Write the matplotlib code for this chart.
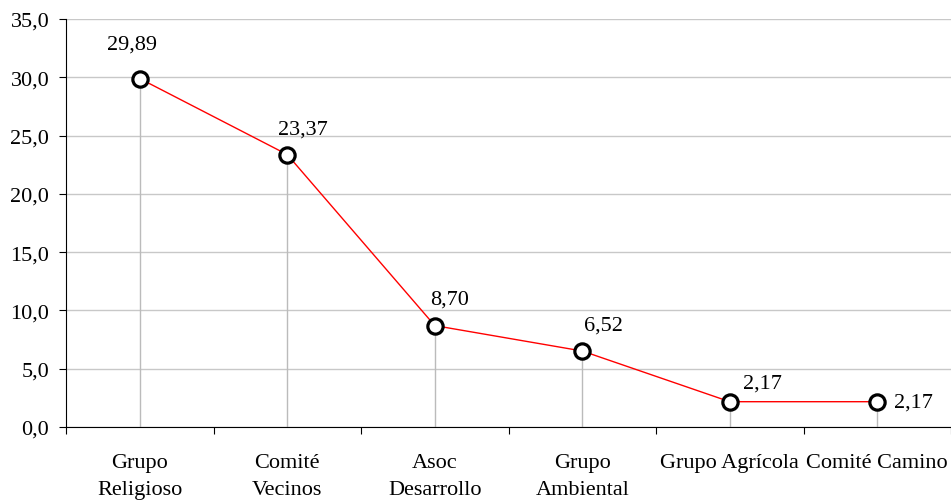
import matplotlib.pyplot as plt
import numpy as np

categorias = ["Grupo\nReligioso", "Comité\nVecinos", "Asoc\nDesarrollo",
              "Grupo\nAmbiental", "Grupo Agrícola", "Comité Camino"]
valores = [29.89, 23.37, 8.70, 6.52, 2.17, 2.17]

# desplazamientos de las etiquetas de datos (pixeles)
offsets = [(-8, 35), (16, 26), (15, 27), (21, 26), (33, 19), (36, 0)]

plt.rcParams['font.family'] = ['Liberation Serif', 'DejaVu Serif']

fig = plt.figure(figsize=(9.51, 5.02), dpi=100)
ax = fig.add_axes([66 / 951, 1 - 428 / 502, 1 - 66 / 951, 408 / 502])

x = np.arange(len(valores)) + 0.5

# lineas de cuadricula horizontales
ax.set_ylim(0, 35)
ax.set_xlim(0, len(valores))
ax.set_yticks(np.arange(0, 35.1, 5))
ax.set_yticklabels([f"{v:.1f}".replace(".", ",") for v in np.arange(0, 35.1, 5)])
ax.yaxis.grid(True, color='#c8c8c8', linewidth=1)
ax.set_axisbelow(True)

# lineas verticales al eje
ax.vlines(x, 0, valores, color='#bbbbbb', linewidth=1, zorder=1)

ax.plot(x, valores, color='red', linewidth=1, zorder=2)
ax.plot(x, valores, 'o', markersize=11, markerfacecolor='white',
        markeredgecolor='black', markeredgewidth=2.3, zorder=3)

for xi, v, (dx, dy) in zip(x, valores, offsets):
    ax.annotate(f"{v:.2f}".replace(".", ","), (xi, v),
                xytext=(dx * 0.72, dy * 0.72), textcoords='offset points',
                ha='center', va='center', fontsize=16)

# ticks del eje x entre categorias, etiquetas centradas
ax.set_xticks(np.arange(len(valores) + 1))
ax.set_xticklabels([])
ax.set_xticks(x, minor=True)
ax.set_xticklabels(categorias, minor=True, fontsize=16, linespacing=1.55)
ax.tick_params(axis='x', which='minor', length=0, pad=19)
ax.tick_params(axis='x', which='major', length=5, direction='out')
ax.tick_params(axis='y', length=5, labelsize=16, pad=7)

ax.spines['top'].set_visible(False)
ax.spines['right'].set_visible(False)

plt.savefig("out.png", dpi=100)
